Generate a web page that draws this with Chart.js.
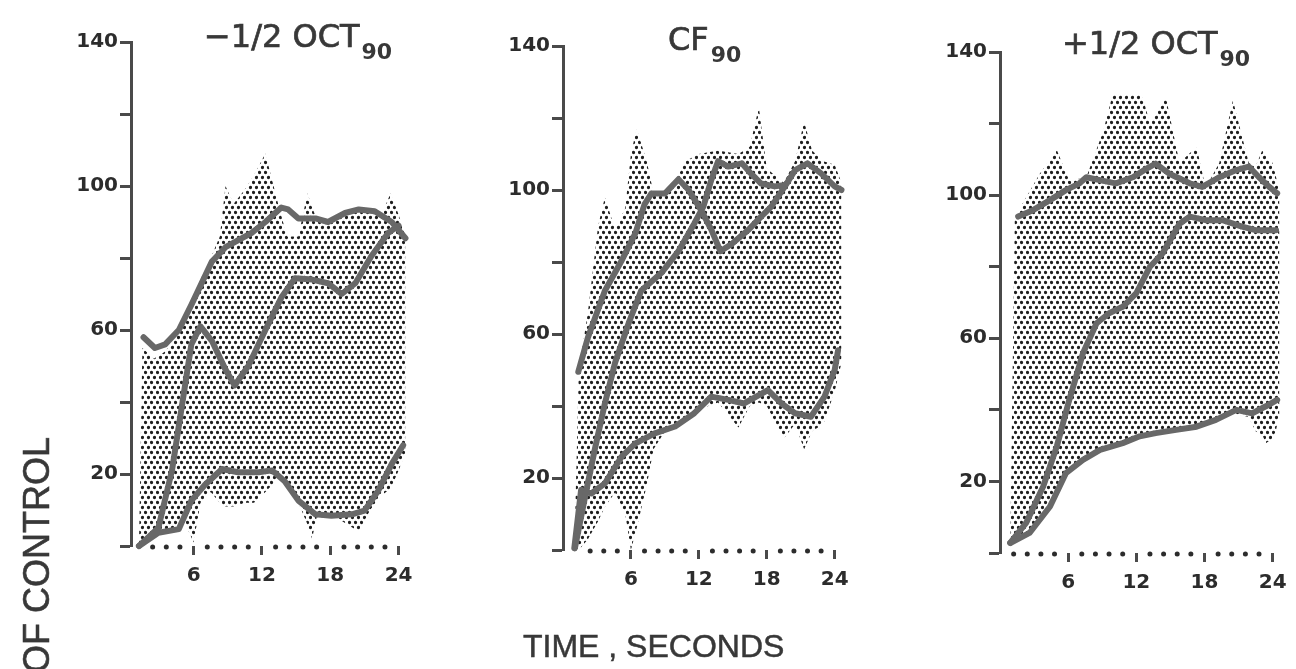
<!DOCTYPE html>
<html>
<head>
<meta charset="utf-8">
<script src="https://cdn.jsdelivr.net/npm/chart.js@4.4.1/dist/chart.umd.min.js"></script>
<style>
  html, body { margin:0; padding:0; background:#fff; width:1296px; height:669px; overflow:hidden; position:relative; }
  canvas { position:absolute; top:0; }
  .ttl { position:absolute; font-family:"DejaVu Sans", sans-serif; font-size:32px; line-height:32px; white-space:nowrap; color:#383838; -webkit-text-stroke:0.7px #383838; }
  .ttl .sb { font-size:22px; font-weight:bold; position:relative; top:12px; margin-left:2px; -webkit-text-stroke:0; }
  .xl { position:absolute; left:523px; top:630px; font-family:"Liberation Sans", Arial, sans-serif; font-size:32px; line-height:32px; color:#383838; white-space:nowrap; -webkit-text-stroke:0.5px #383838; }
  .yl { position:absolute; left:19px; top:673px; transform-origin:0 0; transform:rotate(-90deg); font-family:"Liberation Sans", Arial, sans-serif; font-size:36px; line-height:36px; color:#383838; white-space:nowrap; -webkit-text-stroke:0.6px #383838; }
</style>
</head>
<body>
<canvas id="c1" width="440" height="669" style="left:0px"></canvas>
<canvas id="c2" width="430" height="669" style="left:440px"></canvas>
<canvas id="c3" width="426" height="669" style="left:870px"></canvas>
<div class="ttl" style="left:204px;top:20px">−1/2 OCT<span class="sb">90</span></div>
<div class="ttl" style="left:668px;top:23px">CF<span class="sb">90</span></div>
<div class="ttl" style="left:1062px;top:27px">+1/2 OCT<span class="sb">90</span></div>
<div class="xl">TIME , SECONDS</div>
<div class="yl">OF CONTROL</div>
<script>
// ---------- axis tick values ----------
const xTickValues = [6, 12, 18, 24];
const yTickValues = [0, 20, 40, 60, 80, 100, 120, 140];
const yTickLabelValues = [20, 60, 100, 140];
const axisDotsA = [2.4, 3.6, 4.8, 7.2, 8.4, 9.6, 10.8, 13.2, 14.4, 15.6, 16.8, 19.2, 20.4, 21.6, 22.8];
const axisDotsB = [1.2, 2.4, 3.6, 4.8, 7.2, 8.4, 9.6, 10.8, 13.2, 14.4, 15.6, 16.8, 19.2, 20.4, 21.6, 22.8];

// ---------- panel 1 : -1/2 OCT90 ----------
const p1TopT = [1.6, 2.6, 3.5, 4.7, 5.8, 7.6, 8.8, 11.1, 12.3, 13.7, 14.3, 15.2, 16.7, 17.8, 19.3, 20.5, 21.9, 23.4, 24.6];
const p1TopV = [58, 55, 56, 60, 67, 79, 83, 87, 90, 94, 93.5, 91, 91, 90, 92.5, 93.5, 93, 90, 85.5];
const p1MidT = [1.2, 2.9, 4.1, 5.0, 5.8, 6.6, 7.6, 8.8, 9.6, 10.8, 12.3, 13.7, 14.9, 16.4, 17.8, 19.0, 20.2, 21.6, 23.1, 24.0];
const p1MidV = [0, 5, 21, 39.5, 56, 61, 57, 49, 44.6, 50, 60, 69, 74.4, 74, 73, 70, 73, 80.5, 87, 89];
const p1LowT = [1.2, 2.9, 4.7, 5.8, 7.0, 8.5, 9.9, 11.7, 12.9, 14.0, 15.2, 16.7, 18.1, 19.9, 21.0, 22.2, 23.4, 24.4];
const p1LowV = [0, 3.7, 4.7, 12.6, 17, 21.4, 20.5, 20.5, 21, 18, 12.6, 8.8, 8.4, 8.8, 9.8, 15.3, 22.8, 28];
const p1EnvT  = [1.2, 1.5, 2.5, 3.5, 4.5, 5.3, 6.0, 6.6, 7.5, 8.3, 8.8, 9.5, 10.5, 11.3, 12.3, 13.5, 14.2, 15.2, 16.0, 16.4, 16.8, 17.5, 18.5, 19.5, 20.5, 21.5, 22.5, 23.3, 24.0, 24.6];
const p1EnvHi = [0, 55, 52, 54, 58, 64, 69, 74, 80, 86, 100, 95, 99, 103, 109, 94, 86, 86, 98, 94, 91, 90, 91, 92, 94, 93, 92, 98, 92, 86];
const p1EnvLo = [0, 1, 3, 4, 5, 6, 1, 12, 15, 12, 11, 11, 12, 12, 15, 19, 17, 12, 6, 2, 8, 8, 8, 6, 4, 10, 14, 16, 21, 26];

// ---------- panel 2 : CF90 ----------
const p2AT = [1.35, 2.2, 3.7, 5.2, 6.4, 7.2, 7.8, 9.0, 10.2, 11.1, 12.2, 13.1, 13.9, 14.9, 16.4, 17.5, 18.4, 19.6, 20.5, 21.6, 22.8, 24.0, 24.6];
const p2AV = [49.5, 59, 72, 80.5, 88, 96, 99, 99, 103, 100, 94.4, 89, 83, 85, 89, 92.6, 95.4, 101, 105.5, 107.4, 104.6, 101, 100];
const p2BT = [1.05, 1.9, 2.8, 3.7, 4.6, 5.8, 6.9, 8.7, 10.2, 11.6, 12.4, 13.1, 13.7, 14.6, 15.8, 16.6, 17.5, 18.7, 19.6];
const p2BV = [0.5, 14, 27.8, 40.7, 52, 63, 72, 77, 83, 90.7, 95.4, 102.8, 108, 106.5, 107.4, 104.6, 101.8, 101, 101.4];
const p2CT = [1.0, 1.6, 2.5, 3.7, 5.2, 6.4, 8.1, 9.9, 11.6, 13.1, 14.6, 16.0, 18.1, 19.3, 20.5, 21.9, 23.1, 24.0, 24.3];
const p2CV = [0.5, 16.7, 15.7, 18.5, 26, 29.6, 32.4, 34.3, 38, 42.6, 41.7, 40.7, 44.4, 40.7, 38, 37, 42.6, 50, 55.5];
const p2EnvT  = [1.0, 1.4, 2.2, 3.1, 3.7, 4.6, 5.5, 6.0, 6.5, 7.4, 8.0, 9.0, 10.2, 10.8, 12.0, 13.7, 15.5, 16.5, 17.3, 18.0, 19.5, 20.5, 21.3, 22.0, 23.0, 24.0, 24.6];
const p2EnvHi = [0, 50, 66, 90, 98, 89, 95, 110, 117, 108, 99, 100, 104, 108, 110, 111, 110, 112, 123, 106, 102, 108, 119, 111, 108, 107, 102];
const p2EnvLo = [0, 0, 3, 8, 12, 16, 10, 0, 6, 18, 28, 33, 35, 37, 39, 41, 34, 40, 41, 40, 31, 35, 28, 33, 35, 44, 52];

// ---------- panel 3 : +1/2 OCT90 ----------
const p3TopT = [1.6, 2.9, 4.4, 5.8, 7.0, 7.6, 9.1, 10.2, 11.7, 12.9, 13.7, 14.9, 16.7, 17.8, 19.3, 20.8, 21.9, 22.8, 23.7, 24.4];
const p3TopV = [94, 95.8, 98.6, 101.4, 103.3, 105, 104, 103.3, 105, 107.4, 108.8, 106, 103.3, 102.3, 105, 107, 108, 105, 102.3, 100.5];
const p3MidT = [0.9, 2.3, 3.8, 5.0, 6.1, 7.3, 8.5, 9.6, 10.8, 12.0, 13.2, 14.3, 15.8, 16.7, 18.1, 19.6, 21.3, 22.5, 24.3];
const p3MidV = [2.8, 8.4, 18.6, 29.8, 42.8, 55.8, 64.2, 67, 68.8, 72.6, 80, 83.7, 92, 94, 93, 93, 91.2, 90.2, 90.2];
const p3LowT = [0.9, 2.6, 4.4, 5.8, 7.3, 8.8, 10.8, 12.3, 13.7, 15.5, 17.3, 19.0, 20.8, 22.2, 23.4, 24.4];
const p3LowV = [2.8, 5.6, 13, 22.3, 26, 28.8, 30.7, 32.6, 33.5, 34.4, 35.3, 37.2, 40, 39, 41, 42.8];
const p3EnvT  = [0.9, 1.3, 2.0, 3.5, 5.0, 6.1, 7.6, 9.1, 9.9, 11.0, 12.5, 13.2, 14.6, 15.8, 17.3, 18.1, 19.3, 20.5, 21.9, 22.5, 23.1, 23.4, 24.0, 24.3, 24.6];
const p3EnvHi = [2.8, 93, 97.7, 106, 112.6, 104, 105, 118, 128, 128, 128, 120, 127.4, 109, 113.5, 102, 109, 126.5, 109, 108, 112.6, 111, 109, 105, 101];
const p3EnvLo = [2.8, 3.5, 4.5, 9.3, 17, 23, 26, 28.8, 29.5, 30.5, 32, 32.8, 34, 34.5, 35.3, 35.8, 37, 39, 38, 34, 33, 30.7, 32, 34.4, 39];

// ---------- helpers ----------
const pts = (t, v) => t.map((x, i) => ({ x, y: v[i] }));
const AXIS = '#4a4a4a';
const LINE = '#686868';
const INK = '#2c2c2c';

function stipple(ctx) {
  const c = document.createElement('canvas');
  c.width = 6; c.height = 10;
  const g = c.getContext('2d');
  g.fillStyle = '#1e1e1e';
  [[1.5, 2.5], [4.5, 7.5]].forEach(([x, y]) => { g.beginPath(); g.arc(x, y, 1.65, 0, Math.PI * 2); g.fill(); });
  return ctx.createPattern(c, 'repeat');
}

const axisDotsPlugin = {
  id: 'axisDots',
  afterDatasetsDraw(chart, args, opts) {
    const { ctx, scales: { x, y } } = chart;
    ctx.save();
    ctx.fillStyle = INK;
    (opts.values || []).forEach(v => {
      ctx.beginPath();
      ctx.arc(x.getPixelForValue(v), y.getPixelForValue(0) + 1, 2.5, 0, Math.PI * 2);
      ctx.fill();
    });
    ctx.restore();
  }
};

function makePanel(id, cfg) {
  const canvas = document.getElementById(id);
  const ctx = canvas.getContext('2d');
  const pattern = stipple(ctx);
  const lineDs = (t, v) => ({
    data: pts(t, v), borderColor: LINE, borderWidth: 6, pointRadius: 0,
    fill: false, borderJoinStyle: 'round', borderCapStyle: 'round', clip: 10, tension: 0
  });
  const datasets = cfg.lines.map(([t, v]) => lineDs(t, v));
  datasets.push({ data: pts(cfg.envT, cfg.envHi), borderWidth: 0, borderColor: 'rgba(0,0,0,0)', pointRadius: 0, fill: '+1', backgroundColor: pattern, clip: 10 });
  datasets.push({ data: pts(cfg.envT, cfg.envLo), borderWidth: 0, borderColor: 'rgba(0,0,0,0)', pointRadius: 0, fill: false, clip: 10 });
  const tickFont = { family: 'DejaVu Sans', size: 20, weight: 'bold' };
  return new Chart(ctx, {
    type: 'line',
    data: { datasets },
    plugins: [axisDotsPlugin],
    options: {
      responsive: false, animation: false, events: [],
      layout: { padding: cfg.pad },
      plugins: { legend: { display: false }, tooltip: { enabled: false }, axisDots: { values: cfg.dots } },
      scales: {
        x: {
          type: 'linear', min: cfg.xmin, max: 25,
          afterBuildTicks: s => { s.ticks = xTickValues.map(v => ({ value: v })); },
          afterFit: s => { s.height = 50; },
          ticks: { callback: v => String(v), autoSkip: false, maxRotation: 0, font: tickFont, color: INK, padding: 9 },
          grid: { drawOnChartArea: false, drawTicks: true, tickLength: 9, tickWidth: 3, color: AXIS },
          border: { display: false }
        },
        y: {
          min: 0, max: 140,
          afterBuildTicks: s => { s.ticks = yTickValues.map(v => ({ value: v })); },
          afterFit: s => { s.width = 64; },
          ticks: { callback: v => yTickLabelValues.includes(v) ? String(v) : '', font: tickFont, color: INK, padding: 2 },
          grid: { drawOnChartArea: false, drawTicks: true, tickLength: 11, tickWidth: 3, color: AXIS },
          border: { display: true, width: 3, color: AXIS }
        }
      }
    }
  });
}

makePanel('c1', {
  lines: [[p1TopT, p1TopV], [p1MidT, p1MidV], [p1LowT, p1LowV]],
  envT: p1EnvT, envHi: p1EnvHi, envLo: p1EnvLo, dots: axisDotsA, xmin: 0.5,
  pad: { left: 67, right: 30, top: 42, bottom: 73 }
});
makePanel('c2', {
  lines: [[p2AT, p2AV], [p2BT, p2BV], [p2CT, p2CV]],
  envT: p2EnvT, envHi: p2EnvHi, envLo: p2EnvLo, dots: axisDotsA, xmin: 0,
  pad: { left: 59, right: 24, top: 46, bottom: 69 }
});
makePanel('c3', {
  lines: [[p3TopT, p3TopV], [p3MidT, p3MidV], [p3LowT, p3LowV]],
  envT: p3EnvT, envHi: p3EnvHi, envLo: p3EnvLo, dots: axisDotsB, xmin: 0,
  pad: { left: 66, right: 11, top: 52, bottom: 66 }
});
</script>
</body>
</html>
